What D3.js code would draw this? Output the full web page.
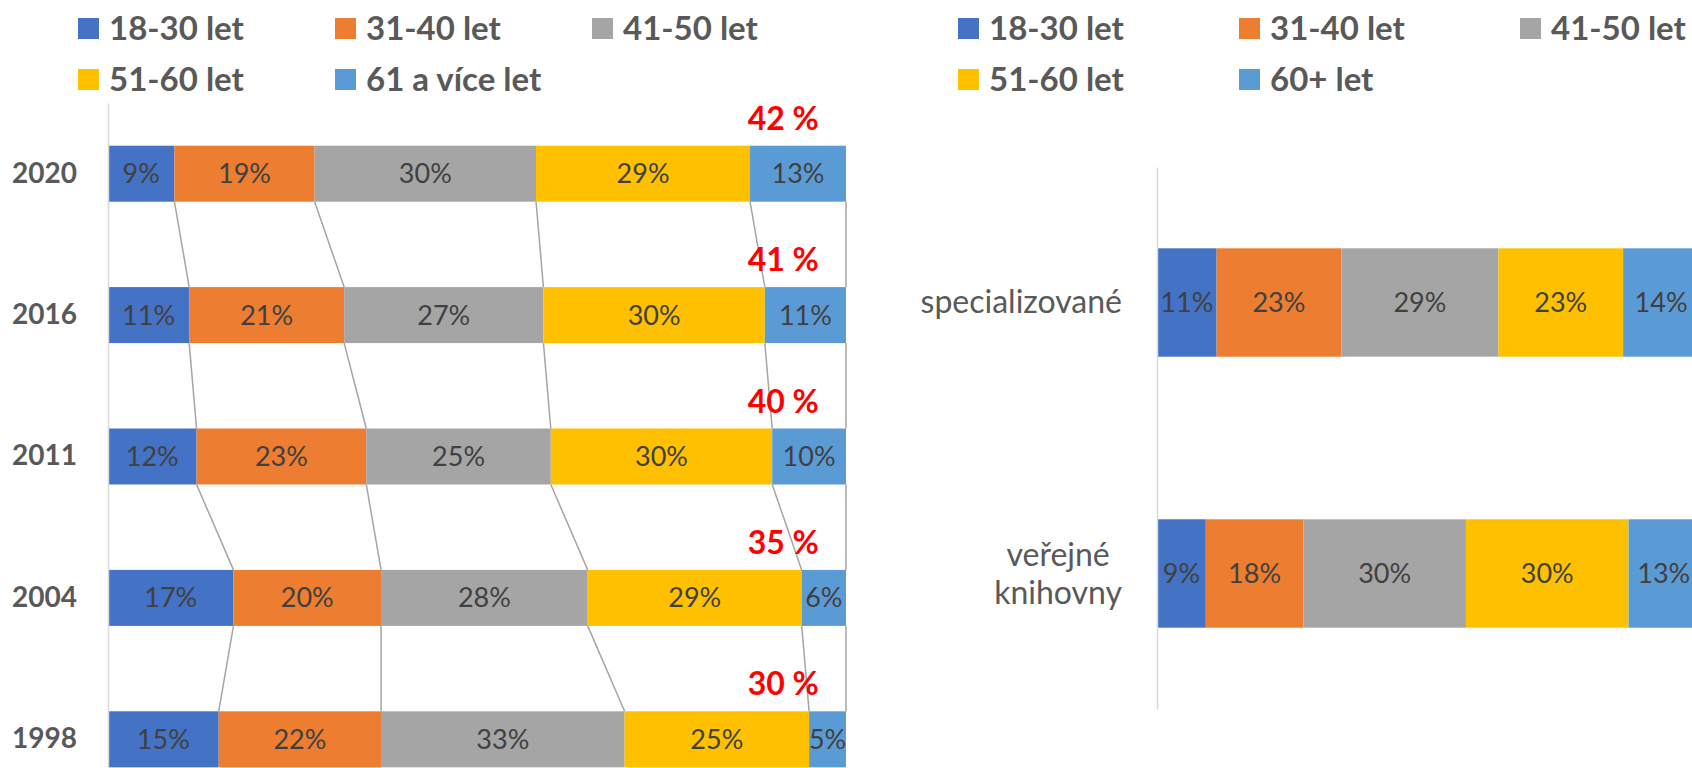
<!DOCTYPE html>
<html>
<head>
<meta charset="utf-8">
<script src="https://cdn.jsdelivr.net/npm/d3@7"></script>
<style>
body { margin: 0; background: #fff; }
svg { display: block; font-family: Lato, "Open Sans", sans-serif; }
</style>
</head>
<body>
<svg id="chart" width="1692" height="768"></svg>
<script>
// left chart: age groups of library staff by survey year
var years = ['2020', '2016', '2011', '2004', '1998'];
var yearSeries = ['18-30 let', '31-40 let', '41-50 let', '51-60 let', '61 a více let'];
var age18_30 = [9, 11, 12, 17, 15];
var age31_40 = [19, 21, 23, 20, 22];
var age41_50 = [30, 27, 25, 28, 33];
var age51_60 = [29, 30, 30, 29, 25];
var age61plus = [13, 11, 10, 6, 5];
var over50 = [42, 41, 40, 35, 30];

// right chart: by library type
var libTypes = ['specializované', 'veřejné knihovny'];
var libSeries = ['18-30 let', '31-40 let', '41-50 let', '51-60 let', '60+ let'];
var lib18_30 = [11, 9];
var lib31_40 = [23, 18];
var lib41_50 = [29, 30];
var lib51_60 = [23, 30];
var lib60plus = [14, 13];

var colors = ['#4472c4', '#ed7d31', '#a5a5a5', '#ffc000', '#5b9bd5'];

var svg = d3.select('#chart');

var build_rows = function(cats, cols) {
    return cats.map(function(c, i) {
        var row = {cat: c};
        cols.forEach(function(col, j) { row[j] = col[i]; });
        return row;
    });
};

var stack = d3.stack().keys(d3.range(5));

var draw_legend = function(names, x0, colStep) {
    var g = svg.append('g').attr('class', 'legend');
    var item = g.selectAll('g.item')
        .data(names)
        .enter()
        .append('g')
        .attr('class', 'item')
        .attr('transform', function(d, i) {
            return 'translate(' + (x0 + (i % 3) * colStep) + ',' + (28.5 + Math.floor(i / 3) * 51) + ')';
        });
    item.append('rect')
        .attr('x', 0).attr('y', -10.5)
        .attr('width', 21).attr('height', 21)
        .attr('fill', function(d, i) { return colors[i]; });
    item.append('text')
        .attr('x', 31).attr('dy', '0.35em')
        .attr('font-size', 33).attr('font-weight', 'bold')
        .attr('fill', '#595959')
        .text(function(d) { return d; });
};

var draw_bars = function(rows, x, y) {
    var layers = stack(rows);
    var g = svg.append('g').attr('class', 'bars');
    var layer = g.selectAll('g.layer')
        .data(layers)
        .enter()
        .append('g')
        .attr('class', 'layer')
        .attr('fill', function(d, i) { return colors[i]; });
    layer.selectAll('rect')
        .data(function(d) { return d; })
        .enter()
        .append('rect')
        .attr('x', function(d) { return x(d[0]); })
        .attr('width', function(d) { return x(d[1]) - x(d[0]); })
        .attr('y', function(d) { return y(d.data.cat); })
        .attr('height', y.bandwidth());
    layer.selectAll('text')
        .data(function(d) { return d; })
        .enter()
        .append('text')
        .attr('x', function(d) { return (x(d[0]) + x(d[1])) / 2; })
        .attr('y', function(d) { return y(d.data.cat) + y.bandwidth() / 2; })
        .attr('dy', '0.35em')
        .attr('text-anchor', 'middle')
        .attr('font-size', 27)
        .attr('fill', '#404040')
        .text(function(d) { return (d[1] - d[0]) + '%'; });
    return layers;
};

var draw_axis = function(y, left, padding, fontSize, weight) {
    var g = svg.append('g')
        .attr('transform', 'translate(' + left + ',0)')
        .call(d3.axisLeft(y).tickSize(0).tickSizeOuter(0).tickPadding(padding));
    g.attr('font-family', null).attr('font-size', null);
    g.select('.domain').attr('stroke', '#d9d9d9').attr('stroke-width', 1.5);
    g.selectAll('text')
        .attr('font-size', fontSize)
        .attr('font-weight', weight)
        .attr('fill', '#595959');
    return g;
};

// split long category names over lines, centred like Excel does
var wrap_label = function(text, maxw, lineh) {
    text.each(function() {
        var t = d3.select(this);
        if (this.getComputedTextLength() <= maxw) return;
        var right = +t.attr('x');
        var fs = +t.attr('font-size');
        var words = t.text().split(' ');
        t.text(null).attr('dy', null);
        var spans = words.map(function(w) { return t.append('tspan').text(w); });
        var widest = d3.max(spans, function(s) { return s.node().getComputedTextLength(); });
        t.attr('text-anchor', 'middle');
        spans.forEach(function(s, i) {
            s.attr('x', right - widest / 2)
             .attr('y', (i - (spans.length - 1) / 2) * lineh + 0.35 * fs);
        });
    });
};

// ---- left chart ----
var xL = d3.scaleLinear().domain([0, 100]).range([108, 846]);
var yL = d3.scaleBand().domain(years).range([103, 810]).paddingInner(0.604).paddingOuter(0.302);
var leftRows = build_rows(years, [age18_30, age31_40, age41_50, age51_60, age61plus]);

var leftLayers = stack(leftRows);
// series lines joining the segment borders of neighbouring bars
var joins = [];
for (var i = 0; i < years.length - 1; i++) {
    leftLayers.forEach(function(layer) {
        joins.push({a: layer[i][1], b: layer[i + 1][1], i: i});
    });
}
svg.append('g').attr('class', 'series-lines')
    .selectAll('line')
    .data(joins)
    .enter()
    .append('line')
    .attr('x1', function(d) { return xL(d.a); })
    .attr('x2', function(d) { return xL(d.b); })
    .attr('y1', function(d) { return yL(years[d.i]) + yL.bandwidth(); })
    .attr('y2', function(d) { return yL(years[d.i + 1]); })
    .attr('stroke', '#a5a5a5')
    .attr('stroke-width', 1.5);

draw_bars(leftRows, xL, yL);
draw_axis(yL, xL(0), 31, 28, 'bold');

svg.append('g').attr('class', 'totals')
    .selectAll('text')
    .data(over50)
    .enter()
    .append('text')
    .attr('x', xL(91.5))
    .attr('y', function(d, i) { return yL(years[i]) - 16; })
    .attr('text-anchor', 'middle')
    .attr('font-size', 32)
    .attr('font-weight', 'bold')
    .attr('fill', '#ff0000')
    .text(function(d) { return d + ' %'; });

draw_legend(yearSeries, 78, 257);

// ---- right chart ----
var xR = d3.scaleLinear().domain([0, 100]).range([1157, 1699]);
var yR = d3.scaleBand().domain(libTypes).range([167, 709]).paddingInner(0.6).paddingOuter(0.3);
var rightRows = build_rows(libTypes, [lib18_30, lib31_40, lib41_50, lib51_60, lib60plus]);

draw_bars(rightRows, xR, yR);
var axR = draw_axis(yR, xR(0), 35, 32, 'normal');
axR.selectAll('text').call(wrap_label, 222, 38);

draw_legend(libSeries, 958, 281);
</script>
</body>
</html>
